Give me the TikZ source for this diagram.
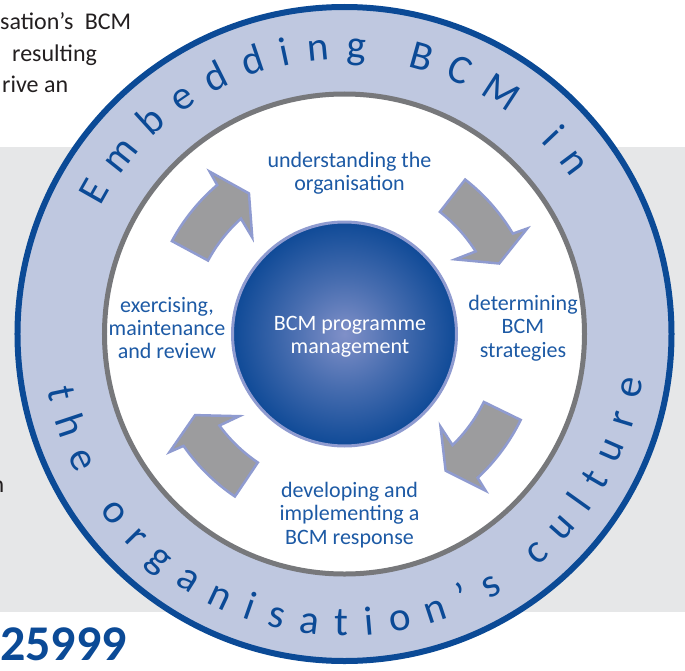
\documentclass[tikz,border=0pt]{standalone}
\usepackage{fontspec}
\setmainfont{Carlito}
\usetikzlibrary{decorations.text}
\definecolor{ringblue}{HTML}{BFC8E0}
\definecolor{rimblue}{HTML}{0B4A96}
\definecolor{labelblue}{HTML}{1D5AA5}
\definecolor{bandgray}{HTML}{E6E7E8}
\definecolor{rimgray}{HTML}{77787B}
\definecolor{arrowgray}{HTML}{9C9C9E}
\definecolor{arrowedge}{HTML}{8F9BD0}
\definecolor{corelight}{HTML}{8090C8}
\definecolor{coredark}{HTML}{0F4A97}
\definecolor{pagetext}{HTML}{231F20}
\pgfdeclareradialshading{coreshade}{\pgfpoint{0bp}{0bp}}{color(0bp)=(corelight); color(12bp)=(corelight!50!coredark); color(25bp)=(coredark); color(50bp)=(coredark)}
\newcommand{\labelfont}{\fontsize{22}{23.4}\selectfont}
\newcommand{\ringfont}{\fontsize{41}{41}\selectfont}
\newcommand{\pagefont}{\fontsize{24}{31.5}\selectfont}
% one of the four cycle arrows, #1 = angle of its tail
\newcommand{\cyclearrow}[1]{%
  \filldraw[cycle arrow] (#1:196) arc[start angle=#1, end angle=#1-21.2, radius=196]
    -- (#1-22:211) -- (#1-27.5:170) -- (#1-18:133.5) -- (#1-19.8:155)
    arc[start angle=#1-19.8, end angle=#1, radius=155] -- cycle;}

\begin{document}
\begin{tikzpicture}[x=1pt,y=1pt,
  cycle arrow/.style={fill=arrowgray, draw=arrowedge, line width=2.5, line join=miter},
  step label/.style={text=labelblue, font=\labelfont, align=center, inner sep=0},
  page text/.style={text=pagetext, font=\pagefont, inner sep=0}]
\useasboundingbox (-344.5,-336) rectangle (340.5,334);
\fill[bandgray] (-344.5,-278) rectangle (340.5,187);

% rings
\filldraw[fill=ringblue, draw=rimblue, line width=6] (0,0) circle[radius=327];
\filldraw[fill=white, draw=rimgray, line width=5] (0,0) circle[radius=240];

% arrows
\cyclearrow{151.7}
\cyclearrow{52}
\cyclearrow{-26}
\cyclearrow{-124}

% centre
\node[circle, minimum size=224, shading=coreshade, draw=arrowedge, line width=3] (core) at (0,0) {};
\node[text=white, font=\labelfont, align=center] (corelabel) at (5.5,-3) {BCM programme\\management};

\node[step label] (understand) at (5,161) {understanding the\\organisation};
\node[step label] (determine) at (178.5,6) {determining\\BCM\\strategies};
\node[step label] (develop) at (5,-181) {developing and\\implementing a\\BCM response};
\node[step label] (exercise) at (-177.5,6) {exercising,\\maintenance\\and review};

% ring text
\path[decorate, decoration={text along path, text align=fit to path,
  text={|\ringfont\color{rimblue}|Embedding BCM in}}]
  (152.5:275) arc[start angle=152.5, end angle=34.5, radius=275];
\path[decorate, decoration={text along path, text align=fit to path,
  text={|\ringfont\color{rimblue}|the organisation’s culture}}]
  (190.6:302) arc[start angle=190.6, end angle=351.4, radius=302];

% page text round the figure
\node[page text, anchor=base west] (line1) at (-344.5,304) {sation’s\hspace{6pt} BCM};
\node[page text, anchor=base west] (line2) at (-332.5,272) {resulting};
\node[page text, anchor=base west] (line3) at (-342.5,241) {rive an};
\node[page text, anchor=base east] (line4) at (-340,-158) {n};
\node[text=rimblue, font=\fontsize{50}{50}\selectfont\bfseries, inner sep=0, anchor=base west] (stdno) at (-344.5,-326) {25999};
\end{tikzpicture}
\end{document}
